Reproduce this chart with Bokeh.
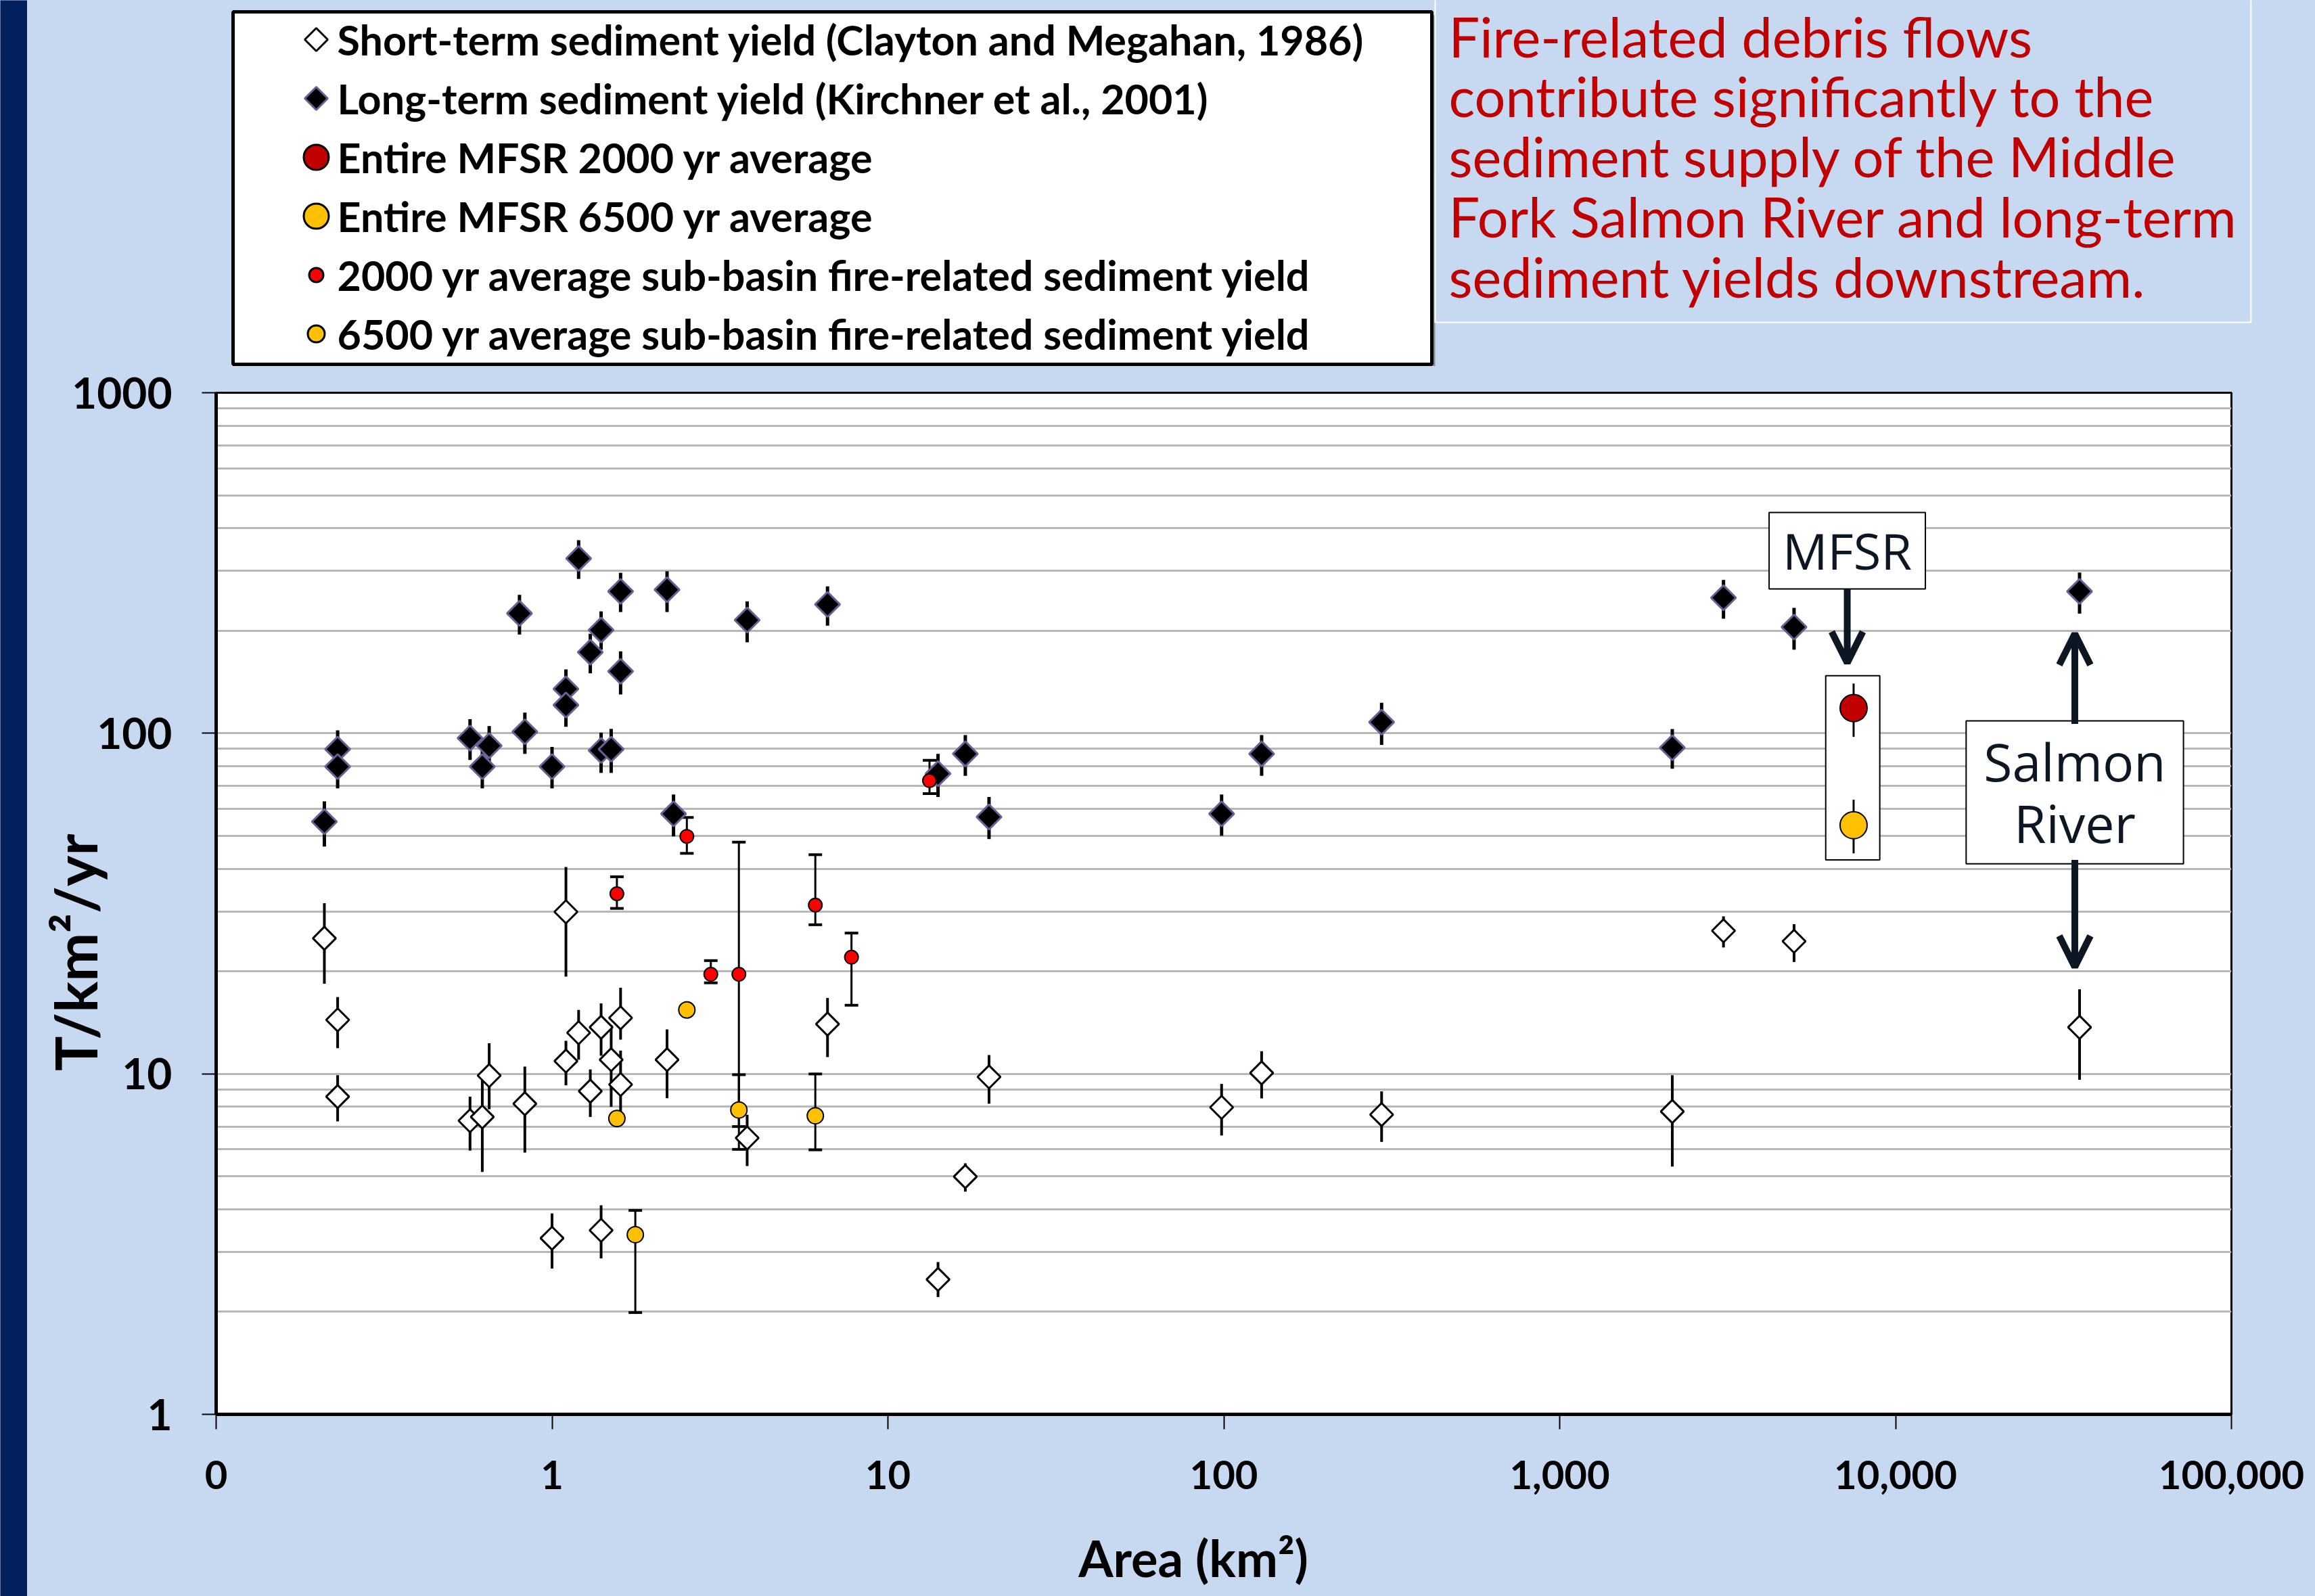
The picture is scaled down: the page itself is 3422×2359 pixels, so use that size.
from bokeh.plotting import figure
from bokeh.layouts import row, column
from bokeh.models import (ColumnDataSource, Whisker, TeeHead, Label, Arrow, OpenHead, FixedTicker)
from bokeh.core.properties import value
from bokeh.embed import file_html
from bokeh.resources import INLINE

# ---------------- data ----------------
# Short-term sediment yield (Clayton and Megahan, 1986)
short_area = [0.21, 0.23, 0.23, 0.57, 0.62, 0.65, 0.83, 1.00, 1.10, 1.10, 1.20, 1.30, 1.40, 1.40,
              1.50, 1.60, 1.60, 2.20, 3.81, 6.61, 14.1, 17.0, 20.0, 98.5, 129.6, 295, 2164,
              3074, 4986, 35300]
short_yield = [25.0, 14.4, 8.57, 7.28, 7.47, 9.88, 8.17, 3.29, 29.9, 10.9, 13.2, 8.89, 3.47, 13.7,
               11.0, 14.6, 9.3, 11.0, 6.48, 14.0, 2.49, 4.99, 9.79, 7.97, 10.06, 7.59, 7.75,
               26.3, 24.5, 13.7]
short_lo = [18.4, 11.9, 7.25, 5.95, 5.15, 7.87, 5.87, 2.68, 19.3, 9.25, 11.0, 7.47, 2.87, 11.3,
            8.0, 12.6, 7.7, 8.48, 5.36, 11.2, 2.21, 4.51, 8.17, 6.59, 8.47, 6.31, 5.34,
            23.5, 21.3, 9.6]
short_hi = [31.7, 16.8, 9.9, 8.57, 9.6, 12.3, 10.5, 3.89, 40.5, 12.5, 15.4, 10.3, 4.11, 16.1,
            13.9, 17.9, 11.7, 13.5, 7.58, 16.7, 2.80, 5.46, 11.35, 9.34, 11.65, 8.88, 9.9,
            29.0, 27.5, 17.7]

# Long-term sediment yield (Kirchner et al., 2001)
long_area = [0.21, 0.23, 0.23, 0.57, 0.62, 0.65, 0.80, 0.83, 1.00, 1.10, 1.10, 1.20, 1.30, 1.40,
             1.40, 1.50, 1.60, 1.60, 2.20, 2.30, 3.81, 6.61, 14.1, 17.0, 20.0, 98.5, 129.6,
             295, 2164, 3074, 4986, 35300]
long_yield = [55, 89.8, 79.8, 96.8, 79.8, 91.9, 225, 101, 79.8, 135, 121, 326, 173, 201,
              89, 89.8, 261, 152, 264, 58, 215, 239, 76.1, 87, 56.8, 58, 87,
              107.8, 90.7, 250, 205, 261]
long_lo = [46.5, 79, 68.9, 83.5, 68.9, 80, 195, 87, 68.9, 120, 104.5, 284, 150, 176,
           76.5, 76.5, 227, 130, 227, 49.8, 185, 207, 65, 75, 48.9, 50, 75,
           92.4, 78.7, 217, 176, 224.5]
long_hi = [63.1, 102, 90, 110, 92, 105, 255, 115, 91.2, 154, 137, 369, 196, 228,
           100.4, 103, 296, 174, 299, 66.1, 244, 270, 87, 98.8, 65, 66.1, 98.8,
           122.9, 102.9, 282, 233.5, 296.6]

# 2000 yr average sub-basin fire-related sediment yield
fire2000_area = [1.56, 2.52, 2.97, 3.60, 6.08, 7.79, 13.3]
fire2000_yield = [33.8, 49.8, 19.6, 19.6, 31.3, 22.0, 72.6]
fire2000_lo = [30.6, 44.4, 18.5, 7.0, 27.4, 15.9, 66.5]
fire2000_hi = [37.9, 56.6, 21.5, 47.9, 44.0, 25.9, 83.3]

# 6500 yr average sub-basin fire-related sediment yield (None = no error bar)
fire6500_area = [1.56, 1.77, 2.52, 3.60, 6.08]
fire6500_yield = [7.39, 3.37, 15.4, 7.83, 7.53]
fire6500_lo = [None, 1.99, None, 6.0, 5.98]
fire6500_hi = [None, 3.97, None, 9.94, 9.99]

# Entire MFSR averages
mfsr_area = [7500]
mfsr2000_yield = [118.6]
mfsr2000_lo = [97.6]
mfsr2000_hi = [140.0]
mfsr6500_yield = [53.7]
mfsr6500_lo = [44.4]
mfsr6500_hi = [63.8]

x_ticks = [0.1, 1, 10, 100, 1000, 10000, 100000]
x_tick_labels = ["0", "1", "10", "100", "1,000", "10,000", "100,000"]
y_ticks = [1, 10, 100, 1000]
y_tick_labels = ["1", "10", "100", "1000"]
y_grid_values = [m * 10 ** e for e in (0, 1, 2) for m in range(1, 10)] + [1000]

legend_labels = [
    "Short-term sediment yield (Clayton and Megahan, 1986)",
    "Long-term sediment yield (Kirchner et al., 2001)",
    "Entire MFSR 2000 yr average",
    "Entire MFSR 6500 yr average",
    "2000 yr average sub-basin fire-related sediment yield",
    "6500 yr average sub-basin fire-related sediment yield",
]
note_text = ("Fire-related debris flows\ncontribute significantly to the\n"
             "sediment supply of the Middle\nFork Salmon River and long-term\n"
             "sediment yields downstream.")
x_title = "Area (km²)"
y_title = "T/km²/yr"

# ---------------- style ----------------
BG = "#C6D9F1"
NAVY = "#03215F"
ARROW = "#0D1724"
RED_S = "#FF0000"
RED_B = "#C00000"
ORANGE = "#FFC000"
PURPLE = "#6E5E96"
FONT = "Lato"
NBSP = "\u00a0"
BAND_W = 40
MAIN_W = 3382
TOP_H = 541
MAIN_H = 1818
DIAMOND = 0.785398


def no_align(fig):
    try:
        fig.frame_align = False
    except Exception:
        pass


# ---------------- left dark band ----------------
band = figure(width=BAND_W, height=TOP_H + MAIN_H, output_backend="svg", toolbar_location=None,
              x_axis_location=None, y_axis_location=None, min_border=0,
              background_fill_color=NAVY, border_fill_color=NAVY, outline_line_color=None)
band.grid.visible = False
band.scatter(x=[], y=[])
no_align(band)

# ---------------- top strip: legend + note (pixel coordinates) ----------------
top = figure(width=MAIN_W, height=TOP_H, output_backend="svg", toolbar_location=None,
             x_range=(0, MAIN_W), y_range=(0, TOP_H),
             x_axis_location=None, y_axis_location=None, min_border=0,
             background_fill_color=BG, border_fill_color=BG, outline_line_color=None)
top.grid.visible = False
no_align(top)

# legend box (with a light drop shadow)
top.quad(left=[308], right=[2081], bottom=[-2], top=[519], fill_color="#8C8C8C", line_color=None)
top.quad(left=[304], right=[2076], bottom=[3], top=[524],
         fill_color="white", line_color="black", line_width=5)

legend_rows = [483, 396, 309, 222, 135, 48]
legend_src = ColumnDataSource(dict(
    x=[427] * 6, y=legend_rows, label_x=[458] * 6, label=legend_labels,
    marker=["square", "square", "circle", "circle", "circle", "circle"],
    angle=[DIAMOND, DIAMOND, 0, 0, 0, 0],
    size=[24, 24, 37, 37, 21, 25],
    fill=["white", "black", RED_B, ORANGE, RED_S, ORANGE],
    line=["black", PURPLE, "black", "black", "black", "black"],
))
top.scatter(x="x", y="y", marker="marker", angle="angle", size="size", fill_color="fill",
            line_color="line", line_width=3, source=legend_src)
top.text(x="label_x", y="y", text="label", source=legend_src, text_font=value(FONT),
         text_font_style="bold", text_font_size="61px", text_color="black",
         text_baseline="middle", text_align="left")

top.add_layout(Label(x=2081, y=557, text=note_text,
                     text_align="left", text_baseline="top", text_font=FONT, text_font_size="81px",
                     text_color="#C00000", text_line_height=0.915,
                     border_line_color="white", border_line_width=2, padding=20))

# ---------------- main chart ----------------
p = figure(width=MAIN_W, height=MAIN_H, x_axis_type="log", y_axis_type="log",
           x_range=(0.1, 100000), y_range=(1, 1000),
           output_backend="svg", toolbar_location=None,
           min_border_left=279, min_border_right=124, min_border_top=39, min_border_bottom=269,
           background_fill_color="white", border_fill_color=BG,
           outline_line_color="black", outline_line_width=3)
no_align(p)

p.xgrid.visible = False
p.ygrid.ticker = FixedTicker(ticks=y_grid_values)
p.ygrid.grid_line_color = "#B8B8B8"
p.ygrid.grid_line_width = 3

xa = p.xaxis[0]
xa.ticker = FixedTicker(ticks=x_ticks)
xa.major_label_overrides = {t: s for t, s in zip(x_ticks, x_tick_labels)}
xa.minor_tick_line_color = None
xa.major_tick_out = 22
xa.major_tick_in = 0
xa.major_tick_line_width = 2
xa.axis_line_width = 5
xa.major_label_text_font = FONT
xa.major_label_text_font_style = "bold"
xa.major_label_text_font_size = "58px"
xa.major_label_text_color = "black"
xa.major_label_standoff = 46
xa.axis_label = x_title + NBSP * 5
xa.axis_label_text_font = FONT
xa.axis_label_text_font_style = "bold"
xa.axis_label_text_font_size = "74px"
xa.axis_label_text_color = "black"
xa.axis_label_standoff = 54

ya = p.yaxis[0]
ya.ticker = FixedTicker(ticks=y_ticks)
ya.major_label_overrides = {t: s for t, s in zip(y_ticks, y_tick_labels)}
ya.minor_tick_line_color = None
ya.major_tick_out = 21
ya.major_tick_in = 0
ya.major_tick_line_width = 2
ya.axis_line_width = 5
ya.major_label_text_font = FONT
ya.major_label_text_font_style = "bold"
ya.major_label_text_font_size = "64px"
ya.major_label_text_color = "black"
ya.major_label_standoff = 44
ya.axis_label = y_title + NBSP * 7
ya.axis_label_text_font = FONT
ya.axis_label_text_font_style = "bold"
ya.axis_label_text_font_size = "86px"
ya.axis_label_text_color = "black"
ya.axis_label_standoff = -59

short_src = ColumnDataSource(dict(x=short_area, y=short_yield, lo=short_lo, hi=short_hi))
long_src = ColumnDataSource(dict(x=long_area, y=long_yield, lo=long_lo, hi=long_hi))
f2_src = ColumnDataSource(dict(x=fire2000_area, y=fire2000_yield, lo=fire2000_lo, hi=fire2000_hi))
f6_src = ColumnDataSource(dict(x=fire6500_area, y=fire6500_yield))
f6_err = [(a, l, h) for a, l, h in zip(fire6500_area, fire6500_lo, fire6500_hi) if l is not None]
f6_err_src = ColumnDataSource(dict(x=[e[0] for e in f6_err], lo=[e[1] for e in f6_err],
                                   hi=[e[2] for e in f6_err]))
m2_src = ColumnDataSource(dict(x=mfsr_area, y=mfsr2000_yield, lo=mfsr2000_lo, hi=mfsr2000_hi))
m6_src = ColumnDataSource(dict(x=mfsr_area, y=mfsr6500_yield, lo=mfsr6500_lo, hi=mfsr6500_hi))

# white box around the MFSR points
p.quad(left=[6195], right=[8974], bottom=[42.5], top=[147.5],
       fill_color="white", line_color="black", line_width=2)

# error-bar stems (under the markers)
for src, lw in ((long_src, 5), (short_src, 4), (f2_src, 3), (f6_err_src, 3), (m2_src, 3), (m6_src, 3)):
    p.segment(x0="x", y0="lo", x1="x", y1="hi", source=src, line_color="black", line_width=lw)

# caps for the circle series
for src, cap in ((f2_src, 20), (f6_err_src, 20), (m2_src, 18), (m6_src, 18)):
    p.add_layout(Whisker(base="x", lower="lo", upper="hi", source=src, dimension="height",
                         line_color=None,
                         lower_head=TeeHead(size=cap, line_width=4, line_color="black"),
                         upper_head=TeeHead(size=cap, line_width=4, line_color="black")))

p.scatter("x", "y", source=long_src, marker="square", angle=DIAMOND, size=26,
          fill_color="black", line_color=PURPLE, line_width=3)
p.scatter("x", "y", source=short_src, marker="square", angle=DIAMOND, size=24,
          fill_color="white", line_color="black", line_width=3)
p.scatter("x", "y", source=f2_src, marker="circle", size=20,
          fill_color=RED_S, line_color="black", line_width=2)
p.scatter("x", "y", source=f6_src, marker="circle", size=24,
          fill_color=ORANGE, line_color="black", line_width=2)
p.scatter("x", "y", source=m2_src, marker="circle", size=40,
          fill_color=RED_B, line_color="black", line_width=2)
p.scatter("x", "y", source=m6_src, marker="circle", size=40,
          fill_color=ORANGE, line_color="black", line_width=2)

# MFSR call-out
p.add_layout(Label(x=7180, y=343.7, text="MFSR", text_align="center", text_baseline="middle",
                   text_font="Open Sans", text_font_size="74px", text_color=ARROW,
                   background_fill_color="white", border_line_color="black", border_line_width=2,
                   padding=(20, 6)))
p.add_layout(Arrow(end=OpenHead(size=46, line_width=10, line_color=ARROW),
                   x_start=7180, y_start=265, x_end=7180, y_end=161,
                   line_width=10, line_color=ARROW))

# Salmon River call-out
p.add_layout(Label(x=34170, y=67.1, text="Salmon\nRiver", text_align="center", text_baseline="middle",
                   text_font="Open Sans", text_font_size="77px", text_color=ARROW, text_line_height=0.86,
                   background_fill_color="white", border_line_color="black", border_line_width=2,
                   padding=(26, 8)))
p.add_layout(Arrow(end=OpenHead(size=46, line_width=10, line_color=ARROW),
                   x_start=34170, y_start=106.5, x_end=34170, y_end=196,
                   line_width=10, line_color=ARROW))
p.add_layout(Arrow(end=OpenHead(size=46, line_width=10, line_color=ARROW),
                   x_start=34170, y_start=42.5, x_end=34170, y_end=20.6,
                   line_width=10, line_color=ARROW))

try:
    right_col = column(top, p, spacing=0, styles={"background-color": BG})
    layout = row(band, right_col, spacing=0, styles={"background-color": BG})
except Exception:
    layout = row(band, column(top, p, spacing=0), spacing=0)

open("out.html", "w").write(file_html(layout, INLINE))
